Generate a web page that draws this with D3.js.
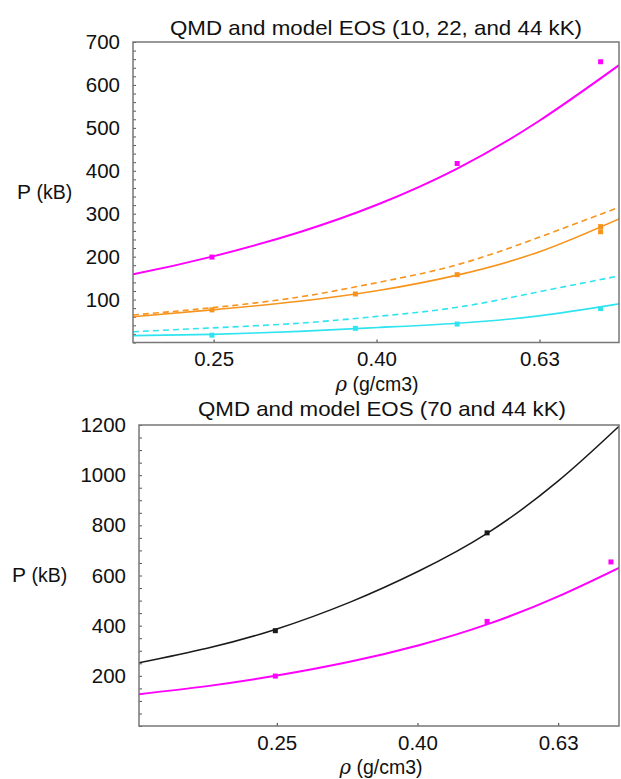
<!DOCTYPE html>
<html>
<head>
<meta charset="utf-8">
<script src="https://cdn.jsdelivr.net/npm/d3@7"></script>
<style>
  html, body { margin: 0; padding: 0; background: #fff; }
  svg text { font-family: "Liberation Sans", Arial, Helvetica, sans-serif; fill: #111; }
</style>
</head>
<body>
<svg id="chart" width="621" height="779"></svg>
<script>
// ---- Model EOS curves (pressure in kB vs density in g/cm3) ----
const rho44 = [0.16, 0.20, 0.25, 0.32, 0.40, 0.50, 0.63, 0.79];
const p44Model = [127, 159, 200, 257, 322, 405, 516, 646];

const rho70 = [0.16, 0.20, 0.25, 0.32, 0.40, 0.50, 0.63, 0.77];
const p70Model = [252, 310, 385, 495, 618, 768, 975, 1195];

const rhoLow = [0.20, 0.25, 0.32, 0.40, 0.50, 0.63, 0.79];
const p22ModelA = [60, 76, 96, 121, 157, 211, 288];
const p22ModelB = [64, 81, 106, 140, 181, 245, 315];
const p10ModelA = [16, 19, 26, 35, 45, 62, 90];
const p10ModelB = [25, 34, 45, 61, 82, 118, 155];

// ---- QMD simulation points ----
const qmdRho44 = [0.25, 0.50, 0.75];
const qmdP44 = [199, 417, 654];
const qmdRho22 = [0.25, 0.375, 0.50, 0.75, 0.75];
const qmdP22 = [76, 113, 158, 258, 270];
const qmdRho10 = [0.25, 0.375, 0.50, 0.75];
const qmdP10 = [17, 33, 43, 79];
const qmdRho70 = [0.25, 0.50];
const qmdP70 = [380, 770];

// ---- Axis ticks ----
const xTickValues = [Math.pow(10, -0.6), Math.pow(10, -0.4), Math.pow(10, -0.2)];
const yTicksTop = [100, 200, 300, 400, 500, 600, 700];
const yTicksBottom = [200, 400, 600, 800, 1000, 1200];

const colors = { c44: "#ff00ff", c22: "#f7941d", c10: "#2fe4f0", c70: "#1a1a1a" };

const svg = d3.select("#chart");

function zip(xs, ys) { return xs.map((x, i) => ({ x, y: ys[i] })); }

function panel(cfg) {
  const g = svg.append("g");
  const x = d3.scaleLog().domain(cfg.xDomain).range([cfg.left, cfg.right]);
  const y = d3.scaleLinear().domain(cfg.yDomain).range([cfg.bottom, cfg.top]);

  const clipId = "clip-" + cfg.id;
  svg.append("clipPath").attr("id", clipId)
    .append("rect").attr("x", cfg.left).attr("y", cfg.top)
    .attr("width", cfg.right - cfg.left).attr("height", cfg.bottom - cfg.top);

  // y axis with minor inward ticks
  const yMinor = d3.range(cfg.yDomain[0], cfg.yDomain[1] + 1e-9, cfg.yMinorStep);
  g.append("g").attr("transform", `translate(${cfg.left},0)`)
    .call(d3.axisRight(y).tickValues(yMinor).tickSize(3).tickFormat(""))
    .call(a => a.select(".domain").remove())
    .call(a => a.selectAll("line").attr("stroke", "#555").attr("stroke-width", 1));

  g.append("g").attr("transform", `translate(${cfg.left - 10},0)`)
    .call(d3.axisLeft(y).tickValues(cfg.yTicks).tickSize(0).tickFormat(d3.format("d")))
    .call(a => a.select(".domain").remove())
    .call(a => a.selectAll("text").attr("font-size", 20.5).attr("fill", "#111")
      .attr("font-family", "Liberation Sans, Arial, sans-serif"));

  // x axis ticks (inward) and labels
  g.append("g").attr("transform", `translate(0,${cfg.bottom})`)
    .call(d3.axisTop(x).tickValues(xTickValues).tickSize(3).tickFormat(""))
    .call(a => a.select(".domain").remove())
    .call(a => a.selectAll("line").attr("stroke", "#333"));
  g.append("g").attr("transform", `translate(0,${cfg.bottom + 6})`)
    .call(d3.axisBottom(x).tickValues(xTickValues).tickSize(0).tickFormat(d3.format(".2f")))
    .call(a => a.select(".domain").remove())
    .call(a => a.selectAll("text").attr("font-size", 20.5).attr("fill", "#111")
      .attr("font-family", "Liberation Sans, Arial, sans-serif"));

  const plot = g.append("g").attr("clip-path", `url(#${clipId})`);
  const line = d3.line().x(d => x(d.x)).y(d => y(d.y)).curve(d3.curveNatural);

  cfg.curves.forEach(c => {
    plot.append("path").datum(zip(c.rho, c.p))
      .attr("d", line).attr("fill", "none")
      .attr("stroke", c.color).attr("stroke-width", c.width || 1.6)
      .attr("stroke-dasharray", c.dash || null)
      .attr("stroke-linecap", "butt");
  });

  cfg.points.forEach(s => {
    plot.selectAll(null).data(zip(s.rho, s.p)).enter().append("rect")
      .attr("x", d => x(d.x) - 2.5).attr("y", d => y(d.y) - 2.5)
      .attr("width", 5).attr("height", 5).attr("fill", s.color);
  });

  // frame
  g.append("rect").attr("x", cfg.left).attr("y", cfg.top)
    .attr("width", cfg.right - cfg.left).attr("height", cfg.bottom - cfg.top)
    .attr("fill", "none").attr("stroke", "#777").attr("stroke-width", 1.5);

  // titles
  g.append("text").attr("x", cfg.titleX).attr("y", cfg.titleY)
    .attr("text-anchor", "middle").attr("font-size", 21)
    .attr("textLength", cfg.titleLen).attr("lengthAdjust", "spacingAndGlyphs")
    .text(cfg.title);

  g.append("text").attr("x", cfg.yLabelX).attr("y", cfg.yLabelY)
    .attr("font-size", 21)
    .text("P ")
    .append("tspan").attr("font-size", 19.5).text("(kB)");

  const xl = g.append("text").attr("x", cfg.xLabelX).attr("y", cfg.xLabelY)
    .attr("text-anchor", "middle").attr("font-size", 19.5);
  xl.append("tspan").attr("font-style", "italic").attr("font-family", "DejaVu Serif, serif").text("ρ");
  xl.append("tspan").text(" (g/cm3)");
}

panel({
  id: "top", left: 133, right: 619, top: 42, bottom: 342.5,
  xDomain: [0.2, 0.79], yDomain: [0, 700], yTicks: yTicksTop, yMinorStep: 20,
  title: "QMD and model EOS (10, 22, and 44 kK)", titleX: 376, titleY: 35, titleLen: 412,
  yLabelX: 17, yLabelY: 199, xLabelX: 377, xLabelY: 391,
  curves: [
    { rho: rho44, p: p44Model, color: colors.c44, width: 2 },
    { rho: rhoLow, p: p22ModelB, color: colors.c22, dash: "6,4" },
    { rho: rhoLow, p: p22ModelA, color: colors.c22 },
    { rho: rhoLow, p: p10ModelB, color: colors.c10, dash: "6,4" },
    { rho: rhoLow, p: p10ModelA, color: colors.c10 }
  ],
  points: [
    { rho: qmdRho44, p: qmdP44, color: colors.c44 },
    { rho: qmdRho22, p: qmdP22, color: colors.c22 },
    { rho: qmdRho10, p: qmdP10, color: colors.c10 }
  ]
});

panel({
  id: "bottom", left: 139, right: 619, top: 425, bottom: 726,
  xDomain: [0.16, 0.77], yDomain: [0, 1200], yTicks: yTicksBottom, yMinorStep: 50,
  title: "QMD and model EOS (70 and 44 kK)", titleX: 382, titleY: 416, titleLen: 368,
  yLabelX: 12, yLabelY: 582, xLabelX: 381, xLabelY: 774,
  curves: [
    { rho: rho70, p: p70Model, color: colors.c70, width: 1.5 },
    { rho: rho44, p: p44Model, color: colors.c44, width: 2 }
  ],
  points: [
    { rho: qmdRho70, p: qmdP70, color: colors.c70 },
    { rho: qmdRho44, p: qmdP44, color: colors.c44 }
  ]
});
</script>
</body>
</html>
